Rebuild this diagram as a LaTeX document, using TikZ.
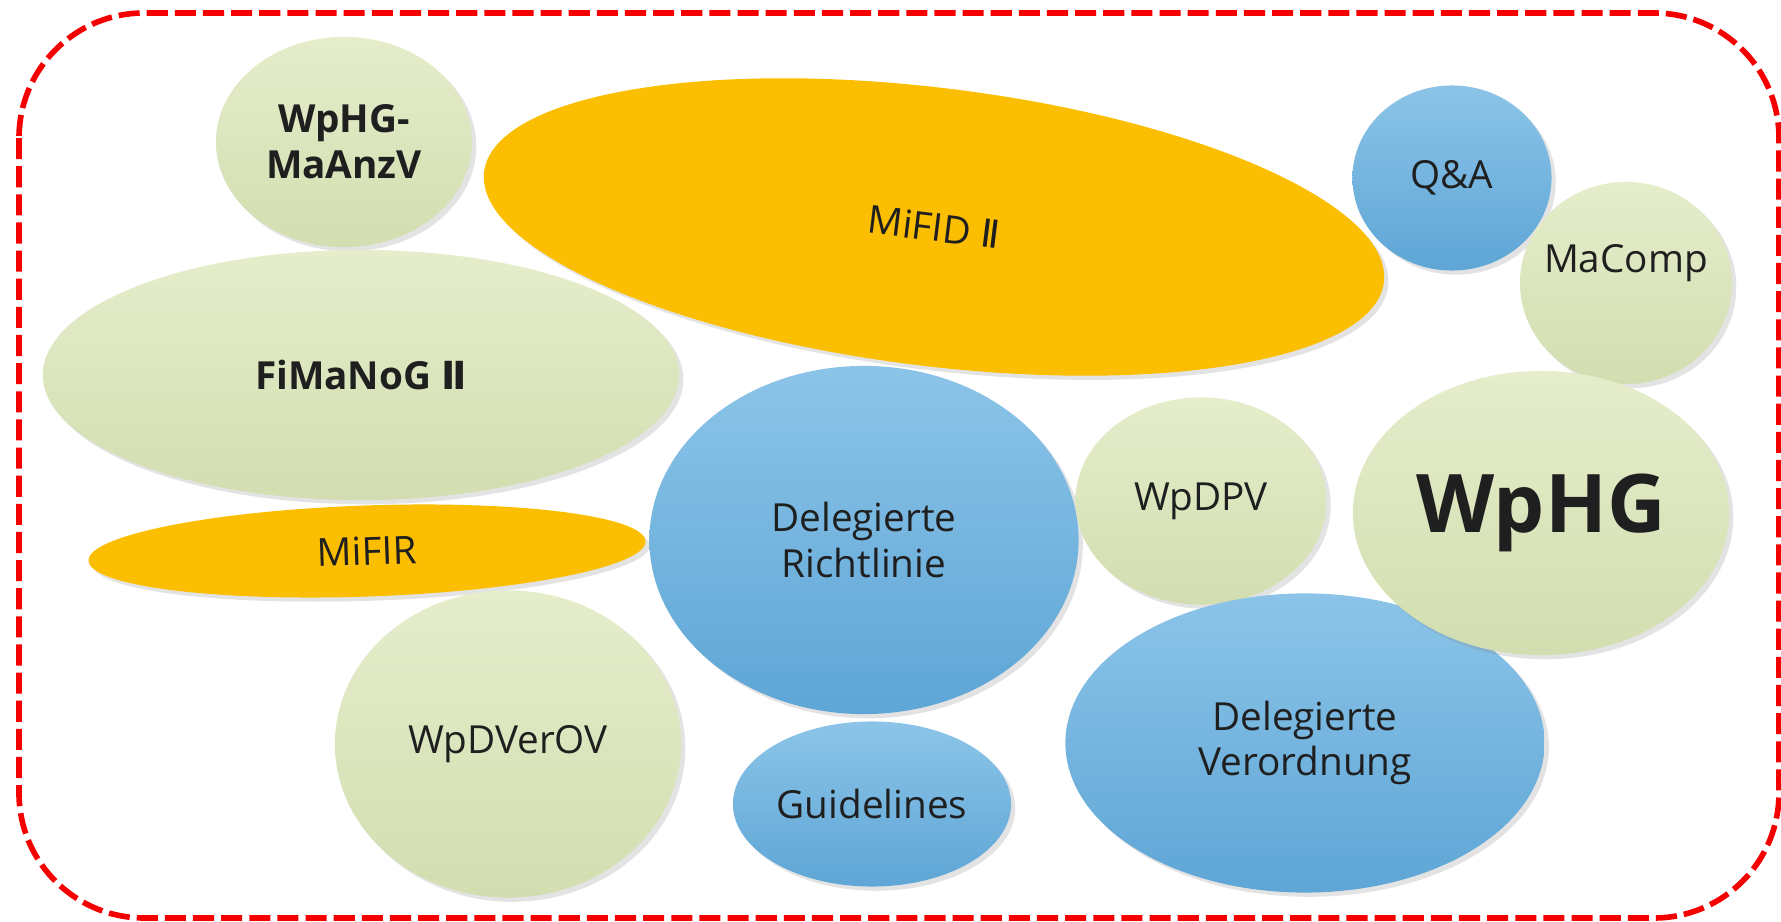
\documentclass[tikz,border=0pt]{standalone}
\usepackage{fontspec}
\setmainfont{Open Sans}
\newfontfamily\numfont{DejaVu Sans}
\usepackage{xcolor}
\usepackage{tikz}
\usetikzlibrary{shapes.geometric, shadows}

\definecolor{natTop}{RGB}{229,237,203}
\definecolor{natBot}{RGB}{210,222,176}
\definecolor{euTop}{RGB}{140,196,232}
\definecolor{euBot}{RGB}{94,166,214}
\definecolor{mifidOrange}{RGB}{252,190,0}
\definecolor{frameRed}{RGB}{245,0,0}

\newcommand{\romtwo}{{\numfont Ⅱ}}

\begin{document}
\begin{tikzpicture}[
    x=0.01cm, y=-0.01cm,
    every node/.style={font=\fontsize{11}{13}\selectfont, text=black!88},
    bubble/.style={ellipse, inner sep=0pt, align=center,
        drop shadow={shadow xshift=1.2pt, shadow yshift=-1.2pt, opacity=0.22}},
    national/.style={bubble, top color=natTop, bottom color=natBot},
    eulevel/.style={bubble, top color=euTop, bottom color=euBot},
    eubasic/.style={bubble, fill=mifidOrange},
    boldtext/.style={font=\fontsize{11}{13}\selectfont\bfseries},
    frame/.style={draw=frameRed, line width=1.6pt, dash pattern=on 6pt off 2pt, rounded corners=1.25cm},
]
\useasboundingbox (0,0) rectangle (1781,922);

% === Outer frame ===
\draw[frame] (19,13) rectangle (1779,918);

% === Upper row ===
\node[national, boldtext, minimum width=2.56cm, minimum height=2.10cm] (maanzv) at (344,142) {WpHG-\\MaAnzV};
\node[national, boldtext, minimum width=6.36cm, minimum height=2.50cm] (fimanog) at (361,375) {FiMaNoG \romtwo};
\node[eubasic, minimum width=9.06cm, minimum height=2.78cm, rotate=-7] (mifid) at (934,227) {MiFID \romtwo};
\node[eulevel, minimum width=1.99cm, minimum height=1.85cm] (qa) at (1452,178) {Q\&A};
\node[national, minimum width=2.12cm, minimum height=2.02cm,
    label={[yshift=0.2cm]center:MaComp}] (macomp) at (1626,283) {};

% === Middle row ===
\node[eubasic, minimum width=5.57cm, minimum height=0.91cm, rotate=2] (mifir) at (367,551) {MiFIR};
\node[eulevel, minimum width=4.29cm, minimum height=3.48cm] (richtlinie) at (864,540) {Delegierte\\Richtlinie};
\node[national, minimum width=2.51cm, minimum height=2.07cm] (wpdpv) at (1201,501) {WpDPV};

% === Lower row ===
\node[eulevel, minimum width=4.79cm, minimum height=2.99cm] (verordnung) at (1305,743) {Delegierte\\Verordnung};
\node[national, minimum width=3.76cm, minimum height=2.84cm,
    font=\fontsize{23}{27}\selectfont\bfseries] (wphg) at (1541,513) {WpHG};
\node[national, minimum width=3.46cm, minimum height=3.07cm] (verov) at (508,744) {WpDVerOV};
\node[eulevel, minimum width=2.78cm, minimum height=1.65cm] (guide) at (872,804) {Guidelines};

\end{tikzpicture}
\end{document}
